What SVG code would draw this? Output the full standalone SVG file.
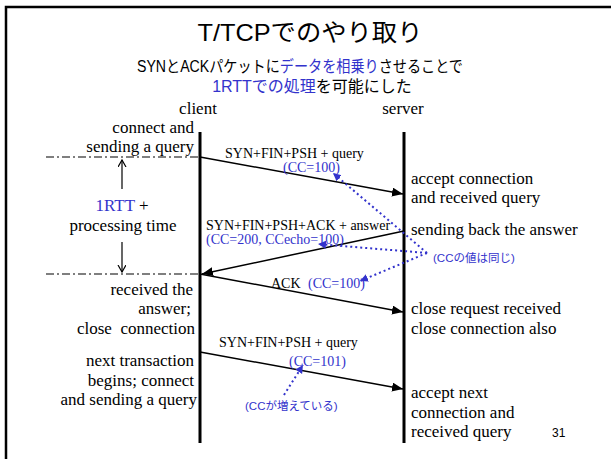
<svg xmlns="http://www.w3.org/2000/svg" width="611" height="459" viewBox="0 0 611 459">
  <style>
    .sans { font-family: "Liberation Sans", "Noto Sans CJK JP", sans-serif; fill: #000; }
    .serif { font-family: "Liberation Serif", "Noto Serif CJK JP", serif; fill: #000; }
    .note { font-size: 17px; }
    .msg { font-size: 14px; }
    .blue { fill: #3333cc; }
    .ann { font-family: "Liberation Sans", "Noto Sans CJK JP", sans-serif; font-size: 11.5px; fill: #3333cc; }
    .end { text-anchor: end; }
    .mid { text-anchor: middle; }
    .life { stroke: #000; stroke-width: 3; }
    .flow { stroke: #000; stroke-width: 1.5; fill: none; marker-end: url(#head); }
    .mark { stroke: #000; stroke-width: 1.2; stroke-dasharray: 8 3 2 3; fill: none; }
    .span { stroke: #000; stroke-width: 1.2; fill: none; marker-end: url(#open); }
    .ref { stroke: #3333cc; stroke-width: 2; stroke-dasharray: 2 3; fill: none; marker-end: url(#bluehead); }
  </style>
  <defs>
    <marker id="head" markerUnits="userSpaceOnUse" markerWidth="12" markerHeight="10" refX="11" refY="4.5" orient="auto">
      <path d="M0,0 L11,4.5 L0,9 Z" fill="#000"/>
    </marker>
    <marker id="open" markerUnits="userSpaceOnUse" markerWidth="10" markerHeight="10" refX="7" refY="4" orient="auto">
      <path d="M0,0 L7,4 L0,8" fill="none" stroke="#000" stroke-width="1.2"/>
    </marker>
    <marker id="bluehead" markerUnits="userSpaceOnUse" markerWidth="10" markerHeight="10" refX="8" refY="4" orient="auto">
      <path d="M0,0 L8,4 L0,8 Z" fill="#3333cc"/>
    </marker>
  </defs>

  <rect width="611" height="459" fill="#fff"/>
  <!-- slide frame, running off the right and bottom edges -->
  <path d="M6,460 V7 H612" fill="none" stroke="#000" stroke-width="2.5"/>

  <!-- heading -->
  <g id="title">
    <text class="sans" x="310" y="41" font-size="24" textLength="225" lengthAdjust="spacingAndGlyphs" text-anchor="middle">T/TCPでのやり取り</text>
    <text class="sans" x="137" y="72" font-size="16" textLength="326" lengthAdjust="spacingAndGlyphs">SYNとACKパケットに<tspan class="blue">データを相乗り</tspan>させることで</text>
    <text class="sans" x="312" y="92" font-size="16" text-anchor="middle"><tspan class="blue">1RTTでの処理</tspan>を可能にした</text>
  </g>

  <!-- lifelines -->
  <g id="client">
    <text class="serif note mid" x="198" y="114">client</text>
    <line class="life" x1="200" y1="132" x2="200" y2="443"/>
  </g>
  <g id="server">
    <text class="serif note mid" x="403" y="114">server</text>
    <line class="life" x1="404" y1="132" x2="404" y2="443"/>
  </g>

  <!-- client side notes -->
  <g id="client-notes">
    <text class="serif note end" x="194" y="133">connect and</text>
    <text class="serif note end" x="194" y="152">sending a query</text>
    <text class="serif note end" x="193" y="295">received the</text>
    <text class="serif note end" x="191" y="314">answer;</text>
    <text class="serif note end" x="195" y="334" style="white-space:pre">close  connection</text>
    <text class="serif note end" x="194" y="366">next transaction</text>
    <text class="serif note end" x="194" y="386">begins; connect</text>
    <text class="serif note end" x="197" y="405">and sending a query</text>
  </g>

  <!-- round trip time span -->
  <g id="rtt">
    <line class="mark" x1="46" y1="157" x2="200" y2="157"/>
    <line class="mark" x1="46" y1="274" x2="200" y2="274"/>
    <text class="serif note mid" x="122" y="211"><tspan class="blue">1RTT</tspan> +</text>
    <text class="serif note mid" x="123" y="231">processing time</text>
  </g>

  <!-- server side notes -->
  <g id="server-notes">
    <text class="serif note" x="411" y="184">accept connection</text>
    <text class="serif note" x="411" y="203">and received query</text>
    <text class="serif note" x="411" y="235">sending back the answer</text>
    <text class="serif note" x="411" y="314">close request received</text>
    <text class="serif note" x="411" y="334">close connection also</text>
    <text class="serif note" x="411" y="398">accept next</text>
    <text class="serif note" x="411" y="418">connection and</text>
    <text class="serif note" x="411" y="437">received query</text>
  </g>

  <!-- annotations -->
  <g id="same-cc">
    <text class="ann" x="433" y="262">(CCの値は同じ)</text>
  </g>
  <g id="cc-up">
    <text class="ann" x="245" y="410">(CCが増えている)</text>
  </g>

  <g id="page">
    <text class="sans" x="552" y="437" font-size="12">31</text>
  </g>

  <!-- messages and their labels -->
  <g id="connectors">
    <line class="span" x1="122" y1="189" x2="122" y2="160"/>
    <line class="span" x1="122" y1="242" x2="122" y2="272"/>

    <line class="flow" x1="200" y1="157" x2="403" y2="194"/>
    <text class="serif msg" x="225" y="158">SYN+FIN+PSH + query</text>
    <text class="serif msg blue" x="283" y="172">(CC=100)</text>

    <line class="flow" x1="404" y1="231" x2="202" y2="274"/>
    <text class="serif msg" x="206" y="230">SYN+FIN+PSH+ACK + answer</text>
    <text class="serif msg blue" x="206" y="244">(CC=200, CCecho=100)</text>

    <line class="flow" x1="200" y1="274" x2="403" y2="312"/>
    <text class="serif msg" x="271" y="288">ACK</text>
    <text class="serif msg blue" x="308" y="288">(CC=100)</text>

    <line class="flow" x1="200" y1="352" x2="403" y2="389"/>
    <text class="serif msg" x="219" y="347">SYN+FIN+PSH + query</text>
    <text class="serif msg blue" x="289" y="366">(CC=101)</text>

    <line class="ref" x1="427" y1="253" x2="333" y2="173"/>
    <line class="ref" x1="427" y1="253" x2="318" y2="244"/>
    <line class="ref" x1="427" y1="253" x2="360" y2="281"/>
    <line class="ref" x1="284" y1="395" x2="303" y2="365"/>
  </g>
</svg>
